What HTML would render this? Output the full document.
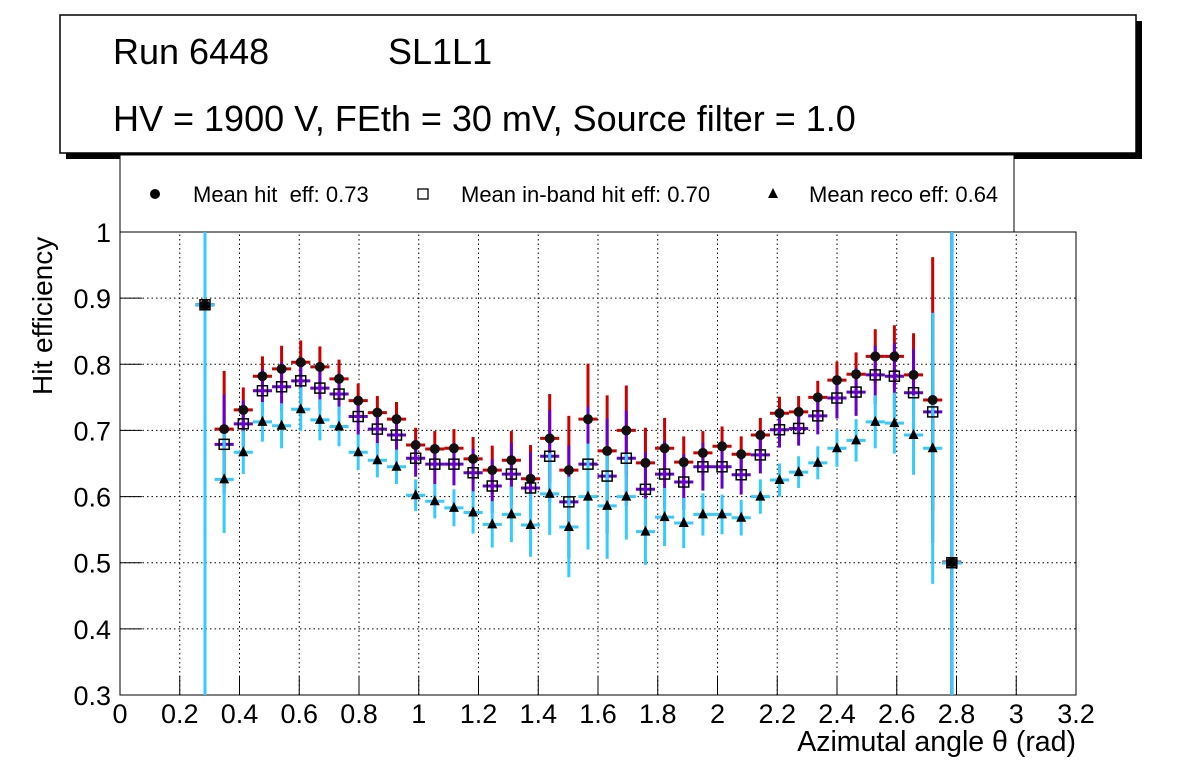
<!DOCTYPE html>
<html><head><meta charset="utf-8"><style>
body{margin:0;background:#fff;}
svg{display:block;font-family:"Liberation Sans",sans-serif;}
</style></head><body>
<svg id="c" width="1196" height="772" viewBox="0 0 1196 772">
<rect x="66" y="21" width="1076" height="138" fill="#000"/>
<rect x="60" y="15" width="1076" height="138" fill="#fff" stroke="#000" stroke-width="1.5"/>
<text x="113" y="64" font-size="36">Run 6448</text>
<text x="388" y="64" font-size="36">SL1L1</text>
<text x="113" y="131" font-size="36">HV = 1900 V, FEth = 30 mV, Source filter = 1.0</text>
<rect x="120" y="155" width="894" height="77" fill="#fff" stroke="#000" stroke-width="1"/>
<g><circle cx="155" cy="194" r="5" fill="#000"/><text x="193" y="202" font-size="22" xml:space="preserve">Mean hit  eff: 0.73</text></g>
<g><rect x="418" y="189" width="10" height="10" fill="#fff" stroke="#000" stroke-width="1.3"/><text x="461" y="202" font-size="22">Mean in-band hit eff: 0.70</text></g>
<g><polygon points="773,188 768,198 778,198" fill="#000"/><text x="809" y="202" font-size="22">Mean reco eff: 0.64</text></g>
<g id="grid"></g>
<g id="axes"></g>
<g id="marks"></g>
<text x="1076" y="751" font-size="28.5" text-anchor="end">Azimutal angle θ (rad)</text>
<text transform="translate(52,395) rotate(-90)" font-size="28">Hit efficiency</text>
</svg>
<script>
const xTicks=[0,0.2,0.4,0.6,0.8,1,1.2,1.4,1.6,1.8,2,2.2,2.4,2.6,2.8,3,3.2];
const yTicks=[0.3,0.4,0.5,0.6,0.7,0.8,0.9,1];
const hitEff=[0.89,0.702,0.731,0.782,0.793,0.803,0.796,0.778,0.745,0.727,0.717,0.678,0.672,0.673,0.657,0.640,0.655,0.627,0.688,0.640,0.717,0.669,0.700,0.651,0.673,0.652,0.666,0.676,0.664,0.693,0.726,0.728,0.750,0.776,0.785,0.812,0.812,0.784,0.746,0.501];
const hitErr=[0.6,0.088,0.034,0.030,0.035,0.033,0.031,0.029,0.026,0.025,0.026,0.026,0.027,0.029,0.033,0.037,0.044,0.051,0.067,0.082,0.084,0.084,0.068,0.053,0.046,0.039,0.033,0.030,0.027,0.026,0.025,0.024,0.025,0.028,0.033,0.041,0.047,0.063,0.216,0.6];
const inbandEff=[0.89,0.679,0.710,0.760,0.766,0.775,0.764,0.755,0.721,0.702,0.693,0.658,0.649,0.649,0.636,0.616,0.634,0.613,0.661,0.592,0.649,0.631,0.658,0.611,0.634,0.622,0.645,0.645,0.633,0.663,0.701,0.703,0.722,0.749,0.758,0.784,0.782,0.757,0.728,0.5];
const inbandErr=[0.6,0.075,0.035,0.032,0.037,0.035,0.033,0.031,0.028,0.027,0.028,0.028,0.03,0.032,0.036,0.04,0.047,0.054,0.07,0.085,0.087,0.087,0.072,0.056,0.05,0.042,0.036,0.033,0.03,0.028,0.027,0.026,0.028,0.031,0.036,0.044,0.05,0.066,0.15,0.6];
const recoEff=[0.89,0.626,0.667,0.713,0.707,0.732,0.716,0.706,0.667,0.655,0.645,0.602,0.593,0.583,0.576,0.558,0.573,0.557,0.604,0.554,0.600,0.586,0.600,0.547,0.569,0.560,0.573,0.573,0.568,0.600,0.625,0.637,0.651,0.673,0.685,0.713,0.711,0.693,0.673,0.5];
const recoErr=[0.6,0.081,0.033,0.03,0.034,0.033,0.031,0.03,0.027,0.026,0.026,0.024,0.026,0.028,0.032,0.035,0.042,0.048,0.062,0.076,0.08,0.08,0.065,0.05,0.044,0.038,0.032,0.03,0.027,0.026,0.025,0.024,0.025,0.028,0.032,0.04,0.046,0.06,0.205,0.6];
const thetaStart=0.2845, thetaStep=0.0641;

const NS="http://www.w3.org/2000/svg";
const X0=120,X1=1076,Y0=695,Y1=232;
const sx=v=>X0+(v-0)/(3.2-0)*(X1-X0);
const sy=v=>Y0-(v-0.3)/(1-0.3)*(Y0-Y1);
const clampY=y=>Math.max(Y1,Math.min(Y0,y));
function mk(tag,attrs,parent){const e=document.createElementNS(NS,tag);for(const k in attrs)e.setAttribute(k,attrs[k]);parent.appendChild(e);return e;}
const grid=document.getElementById('grid'),axes=document.getElementById('axes'),marks=document.getElementById('marks');
xTicks.forEach(t=>{
  const x=sx(t);
  if(t>0&&t<3.2){const g=mk('line',{x1:x,x2:x,y1:Y0,y2:Y1,stroke:'#000','stroke-width':1,'stroke-dasharray':'1.5,3'},grid);
  
  }
  const tk=mk('line',{x1:x,x2:x,y1:Y0,y2:Y0-19,stroke:'#000','stroke-width':1},axes);
  
  
  const l=mk('text',{x:x,y:723,'font-size':27,'text-anchor':'middle'},axes);l.textContent=String(t);
  
  
});
yTicks.forEach(t=>{
  const y=sy(t);
  if(t>0.3&&t<1){const g=mk('line',{x1:X0,x2:X1,y1:y,y2:y,stroke:'#000','stroke-width':1,'stroke-dasharray':'1.5,3'},grid);
  
  }
  const tk=mk('line',{x1:X0,x2:X0+22,y1:y,y2:y,stroke:'#000','stroke-width':1},axes);
  
  
  const l=mk('text',{x:111,y:y+10,'font-size':27,'text-anchor':'end'},axes);l.textContent=String(t);
  
  
});
const fr=mk('rect',{x:X0,y:Y1,width:X1-X0,height:Y0-Y1,fill:'none',stroke:'#000','stroke-width':1},axes);



const half=thetaStep/2;
function errs(vals,errsArr,color,name){
  vals.forEach((v,i)=>{
    const th=thetaStart+thetaStep*i;
    const x=sx(th),y=sy(v);
    const g=mk('g',{},marks);
    
    
    mk('line',{x1:sx(th-half),x2:sx(th+half),y1:y,y2:y,stroke:color,'stroke-width':3},g);
    mk('line',{x1:x,x2:x,y1:clampY(sy(v-errsArr[i])),y2:clampY(sy(v+errsArr[i])),stroke:color,'stroke-width':3},g);
  });
}
errs(hitEff,hitErr,'#cc0000','hit');
errs(inbandEff,inbandErr,'#6600cc','inband');
errs(recoEff,recoErr,'#33ccff','reco');
hitEff.forEach((v,i)=>{const c=mk('circle',{cx:sx(thetaStart+thetaStep*i),cy:sy(v),r:5,fill:'#111'},marks);
  
  });
inbandEff.forEach((v,i)=>{const x=sx(thetaStart+thetaStep*i),y=sy(v);const r=mk('rect',{x:x-5,y:y-5,width:10,height:10,fill:'none',stroke:'#000','stroke-width':1.5},marks);
  
  });
recoEff.forEach((v,i)=>{const x=sx(thetaStart+thetaStep*i),y=sy(v);const p=mk('polygon',{points:`${x},${y-6} ${x-5},${y+4} ${x+5},${y+4}`,fill:'#000'},marks);
  
  });
</script>
</body></html>
